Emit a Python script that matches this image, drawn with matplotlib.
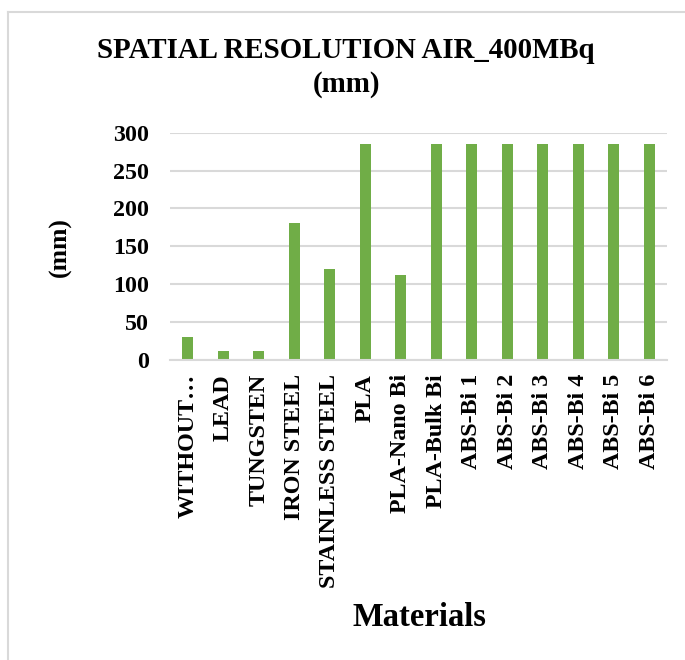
import matplotlib
matplotlib.use("Agg")
import matplotlib.pyplot as plt
from matplotlib.lines import Line2D

materials = ["WITHOUT\u2026", "LEAD", "TUNGSTEN", "IRON STEEL", "STAINLESS STEEL",
             "PLA", "PLA-Nano Bi", "PLA-Bulk Bi", "ABS-Bi 1", "ABS-Bi 2",
             "ABS-Bi 3", "ABS-Bi 4", "ABS-Bi 5", "ABS-Bi 6"]
resolution_mm = [30, 12, 12, 181, 120, 285, 112, 285, 285, 285, 285, 285, 285, 285]
y_ticks = [0, 50, 100, 150, 200, 250, 300]

plt.rcParams["font.family"] = ["Liberation Serif", "DejaVu Serif"]
plt.rcParams["font.weight"] = "bold"

fig = plt.figure(figsize=(6.85, 6.6), dpi=100)
ax = fig.add_axes([170 / 685, 1 - 360 / 660, 497 / 685, (360 - 132.7) / 660])

x = range(len(materials))
ax.bar(x, resolution_mm, width=0.31, color="#70ad47", zorder=3)

ax.set_xlim(-0.5, len(materials) - 0.5)
ax.set_ylim(0, 300)
ax.set_yticks(y_ticks)
ax.set_yticklabels([str(v) for v in y_ticks], fontsize=17.3, fontweight="bold")
ax.set_xticks(list(x))
ax.set_xticklabels(materials, rotation=90, fontsize=17.3, fontweight="bold")
ax.tick_params(axis="y", length=0, pad=15)
ax.tick_params(axis="x", length=0, pad=10)

ax.grid(axis="y", color="#d9d9d9", linewidth=1.5, zorder=0)
for side in ("top", "right", "left"):
    ax.spines[side].set_visible(False)
ax.spines["bottom"].set_color("#d9d9d9")
ax.spines["bottom"].set_linewidth(1.5)
ax.spines["bottom"].set_zorder(4)

fig.text(346 / 685, 1 - 51 / 660, "SPATIAL RESOLUTION AIR_400MBq",
         ha="center", va="center", fontsize=20.8, fontweight="bold")
fig.text(346 / 685, 1 - 85 / 660, "(mm)",
         ha="center", va="center", fontsize=20.8, fontweight="bold")
fig.text(60 / 685, 1 - 247 / 660, "(mm)", rotation=90,
         ha="center", va="center", fontsize=18.5, fontweight="bold")
fig.text(419 / 685, 1 - 618 / 660, "Materials",
         ha="center", va="center", fontsize=23.5, fontweight="bold")

# chart-area frame (left and top edges)
frame_color = "#d9d9d9"
fig.add_artist(Line2D([8 / 685, 8 / 685], [0, 1 - 12 / 660],
                      transform=fig.transFigure, color=frame_color, linewidth=1.5))
fig.add_artist(Line2D([8 / 685, 1], [1 - 12 / 660, 1 - 12 / 660],
                      transform=fig.transFigure, color=frame_color, linewidth=1.5))

fig.savefig("out.png", dpi=100)
